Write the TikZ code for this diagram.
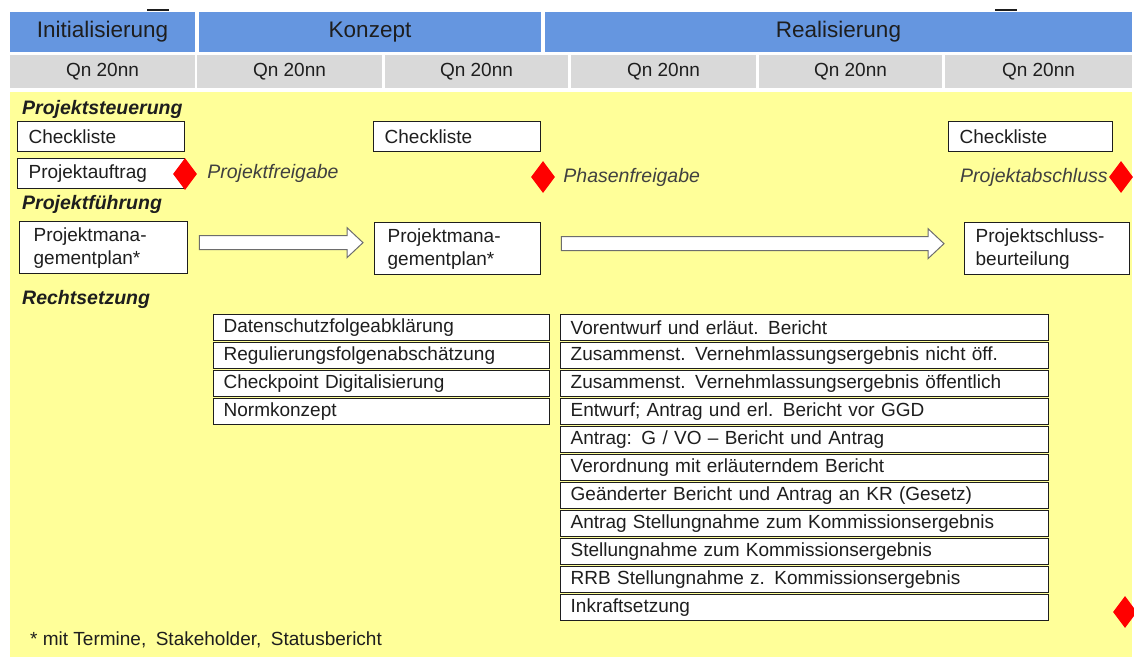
\documentclass[tikz,border=0pt]{standalone}
\usepackage{fontspec}
\setmainfont{Liberation Sans}
\usetikzlibrary{shapes.geometric}
\usetikzlibrary{positioning}
\usetikzlibrary{calc}
\definecolor{phaseblue}{RGB}{101,150,224}
\definecolor{quartergrey}{RGB}{217,217,217}
\definecolor{paleyellow}{RGB}{255,255,153}
\definecolor{inkgrey}{RGB}{30,30,30}

\begin{document}
\begin{tikzpicture}[x = 1pt, y = -1pt,
  phase/.style = {fill = phaseblue, minimum height = 40pt, inner sep = 0pt, text = inkgrey, font = \fontsize{22.5}{26}\selectfont},
  quarter/.style = {fill = quartergrey, minimum width = 185pt, minimum height = 33pt, inner sep = 0pt, text = inkgrey, font = \fontsize{19}{22}\selectfont},
  card/.style = {draw = inkgrey, line width = 1.3pt, fill = white, anchor = north west, inner xsep = 11pt, inner ysep = 0pt, text width = #1, align = left, minimum height = 30pt, text = inkgrey, font = \fontsize{19}{23}\selectfont},
  row/.style = {card = #1, inner xsep = 10pt, minimum height = 26pt},
  section/.style = {anchor = west, inner sep = 0pt, text = inkgrey, font = \fontsize{19.5}{22}\selectfont\bfseries\itshape},
  gate/.style = {diamond, fill = red, minimum width = 24pt, minimum height = 32pt, inner sep = 0pt},
  gatelabel/.style = {inner sep = 0pt, text = inkgrey!85, font = \fontsize{19.5}{22}\selectfont\itshape},
  fatarrow/.style = {draw = inkgrey!65, fill = white, line width = 1pt}]
  \useasboundingbox (0, 0) rectangle (1134, 657);
  % header rows
  \fill [inkgrey] (147, 9) rectangle (169, 11);
  \fill [inkgrey] (995, 9) rectangle (1017, 11);
  \node [phase, minimum width = 185pt] (init) at (102.5, 32) {Initialisierung};
  \node [phase, minimum width = 342pt] (konzept) at (370, 32) {Konzept};
  \node [phase, minimum width = 587pt] (real) at (838.5, 32) {Realisierung};
  \node [quarter] (q1) at (102.5, 71.5) {Qn 20nn};
  \node [quarter] (q2) at (289.5, 71.5) {Qn 20nn};
  \node [quarter, minimum width = 183pt] (q3) at (476.5, 71.5) {Qn 20nn};
  \node [quarter] (q4) at (663.5, 71.5) {Qn 20nn};
  \node [quarter, minimum width = 183pt] (q5) at (850.5, 71.5) {Qn 20nn};
  \node [quarter, minimum width = 187pt] (q6) at (1038.5, 71.5) {Qn 20nn};
  \fill [paleyellow] (10, 92) rectangle (1132, 657);
  % Projektsteuerung
  \node [section] (steuerung) at (22, 109) {Projektsteuerung};
  \node [card = 145pt] (check1) at (17, 121) {Checkliste};
  \node [card = 145pt] (auftrag) at (17, 158) {Projektauftrag};
  \node [gate] (gate1) at (185, 174) {};
  \node [gatelabel, right = 10pt of gate1, yshift = 1pt] (freigabe) {Projektfreigabe};
  \node [card = 145pt] (check2) at (373, 121) {Checkliste};
  \node [gate] (gate2) at (543, 177) {};
  \node [gatelabel, right = 8pt of gate2] (phasenfrei) {Phasenfreigabe};
  \node [card = 142pt] (check3) at (948, 121) {Checkliste};
  \node [gate] (gate3) at (1121, 177) {};
  \node [gatelabel, left = 1pt of gate3] (abschluss) {Projektabschluss};
  % Projektfuehrung
  \node [section] (fuehrung) at (22, 204) {Projektführung};
  \node [card = 140pt, inner xsep = 14pt, minimum height = 52pt] (plan1) at (19, 221) {Projektmana-\\gementplan*};
  \node [card = 140pt, inner xsep = 13pt, minimum height = 52pt] (plan2) at (374, 222) {Projektmana-\\gementplan*};
  \node [card = 143pt, minimum height = 52pt] (schluss) at (964, 222) {Projektschluss-\\beurteilung};
  \draw [fatarrow] let \p1 = ($(plan1.east) + (11, -5)$), \p2 = ($(plan2.west) + (-11, -5)$) in
    (\x1, {\y1 + 7pt}) -- ({\x2 - 16pt}, {\y1 + 7pt}) -- ({\x2 - 16pt}, {\y1 + 15pt}) -- (\x2, \y1)
    -- ({\x2 - 16pt}, {\y1 - 15pt}) -- ({\x2 - 16pt}, {\y1 - 7pt}) -- (\x1, {\y1 - 7pt}) -- cycle;
  \draw [fatarrow] let \p1 = ($(plan2.east) + (20, -5)$), \p2 = ($(schluss.west) + (-20, -5)$) in
    (\x1, {\y1 + 7pt}) -- ({\x2 - 16pt}, {\y1 + 7pt}) -- ({\x2 - 16pt}, {\y1 + 15pt}) -- (\x2, \y1)
    -- ({\x2 - 16pt}, {\y1 - 15pt}) -- ({\x2 - 16pt}, {\y1 - 7pt}) -- (\x1, {\y1 - 7pt}) -- cycle;
  % Rechtsetzung
  \node [section] (recht) at (22, 299) {Rechtsetzung};
  \node [row = 316pt] (dsfa) at (213, 314) {Datenschutzfolgeabklärung};
  \node [row = 316pt] (rfa) at (213, 342) {Regulierungsfolgenabschätzung};
  \node [row = 316pt] (digital) at (213, 370) {Checkpoint Digitalisierung};
  \node [row = 316pt] (norm) at (213, 398) {Normkonzept};
  \node [row = 468pt] (vorentwurf) at (560, 314) {Vorentwurf und erläut. Bericht};
  \node [row = 468pt] (vnlnicht) at (560, 342) {Zusammenst. Vernehmlassungsergebnis nicht öff.};
  \node [row = 468pt] (vnloeff) at (560, 370) {Zusammenst. Vernehmlassungsergebnis öffentlich};
  \node [row = 468pt] (entwurf) at (560, 398) {Entwurf; Antrag und erl. Bericht vor GGD};
  \node [row = 468pt] (antrag) at (560, 426) {Antrag: G / VO – Bericht und Antrag};
  \node [row = 468pt] (verordnung) at (560, 454) {Verordnung mit erläuterndem Bericht};
  \node [row = 468pt] (geaendert) at (560, 482) {Geänderter Bericht und Antrag an KR (Gesetz)};
  \node [row = 468pt] (antragstell) at (560, 510) {Antrag Stellungnahme zum Kommissionsergebnis};
  \node [row = 468pt] (stellung) at (560, 538) {Stellungnahme zum Kommissionsergebnis};
  \node [row = 468pt] (rrb) at (560, 566) {RRB Stellungnahme z. Kommissionsergebnis};
  \node [row = 468pt] (inkraft) at (560, 594) {Inkraftsetzung};
  \node [gate] (gate4) at (1125, 612) {};
  \node [anchor = west, inner sep = 0pt, text = inkgrey, font = \fontsize{19}{21}\selectfont] (fussnote) at (30, 640) {* mit Termine,\enspace Stakeholder,\enspace Statusbericht};
\end{tikzpicture}
\end{document}
